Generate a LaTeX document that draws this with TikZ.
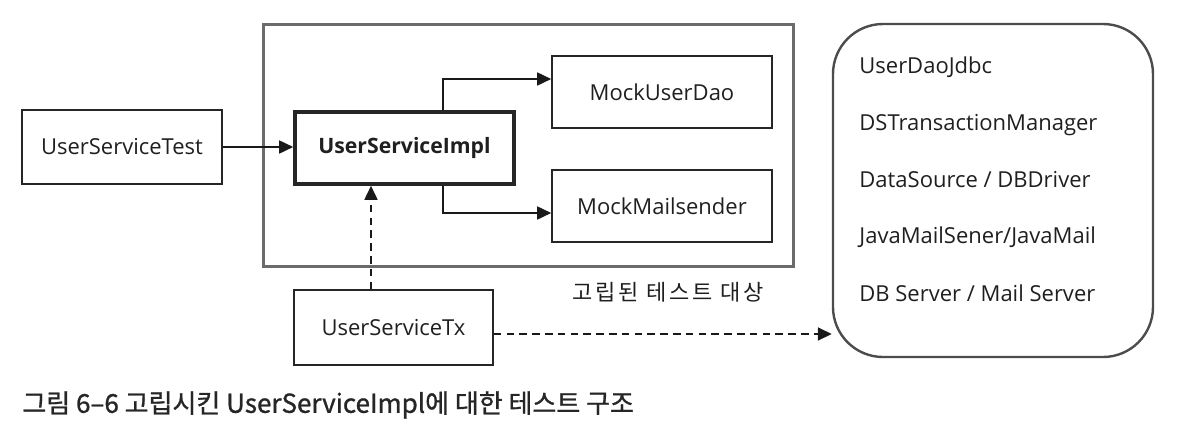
\documentclass[tikz,border=0pt]{standalone}
\usepackage{fontspec}
\setmainfont{Open Sans}
\newfontfamily\kr{Noto Sans CJK KR}
\usetikzlibrary{arrows.meta}

\begin{document}
\begin{tikzpicture}[x=0.5pt,y=-0.5pt,font=\fontsize{11}{13}\selectfont,
  box/.style={draw=black!85,line width=0.8pt,inner sep=0pt,text=black!88},
  arr/.style={draw=black!90,line width=0.85pt,-{Triangle[length=7pt,width=6.5pt]}},
  dasharr/.style={arr,dash pattern=on 3.8pt off 2.6pt}]

\useasboundingbox (0,0) rectangle (1179,429);

% isolated part
\node[draw=black!58,line width=1.5pt,minimum width=265pt,minimum height=121pt] (group) at (528,145) {};
\node[text=black!88] (grouplabel) at (668,292) {\kr\addfontfeature{LetterSpace=13}\fontsize{11}{12}\selectfont 고립된 테스트 대상};

\node[box,minimum width=100pt,minimum height=37pt] (test) at (122,147) {UserServiceTest};
\node[box,line width=1.8pt,minimum width=109.5pt,minimum height=36pt,font=\fontsize{10.6}{13}\selectfont\bfseries] (impl) at (404.5,148) {UserServiceImpl};
\node[box,minimum width=110pt,minimum height=36pt] (dao) at (662,92) {MockUserDao};
\node[box,minimum width=110pt,minimum height=36pt] (mail) at (662,206) {MockMailsender};
\node[box,minimum width=99.5pt,minimum height=37.5pt] (tx) at (393.5,327.5) {UserServiceTx};

% real dependencies
\node[draw=black!70,line width=1.2pt,rounded corners=25pt,minimum width=160pt,minimum height=166.5pt] (ext) at (993,190.5) {};
\node[anchor=west,inner sep=0pt,text=black!88] (ext1) at (859,67) {UserDaoJdbc};
\node[anchor=west,inner sep=0pt,text=black!88] (ext2) at (859,125) {DSTransactionManager};
\node[anchor=west,inner sep=0pt,text=black!88] (ext3) at (859,180) {DataSource / DBDriver};
\node[anchor=west,inner sep=0pt,text=black!88] (ext4) at (859,237) {JavaMailSener/JavaMail};
\node[anchor=west,inner sep=0pt,text=black!88] (ext5) at (859,293) {DB Server / Mail Server};

\coordinate (txout) at ([yshift=-3.25pt]tx.east);
\draw[arr] (test.east) -- (impl.west |- test.east);
\draw[arr] ([xshift=19.25pt]impl.north) |- ([yshift=6.5pt]dao.west);
\draw[arr] ([xshift=19.25pt]impl.south) |- ([yshift=-3.5pt]mail.west);
\draw[dasharr] ([xshift=-11.25pt]tx.north) -- ([xshift=-11.25pt]tx.north |- impl.south);
\draw[dasharr] (txout) -- (ext.west |- txout);

\node[anchor=west,inner sep=0pt,text=black!85] (caption) at (22,405) {\kr\addfontfeature{FakeBold=1}\fontsize{13}{15}\selectfont 그림 6–6 고립시킨 UserServiceImpl에 대한 테스트 구조};

\end{tikzpicture}
\end{document}
